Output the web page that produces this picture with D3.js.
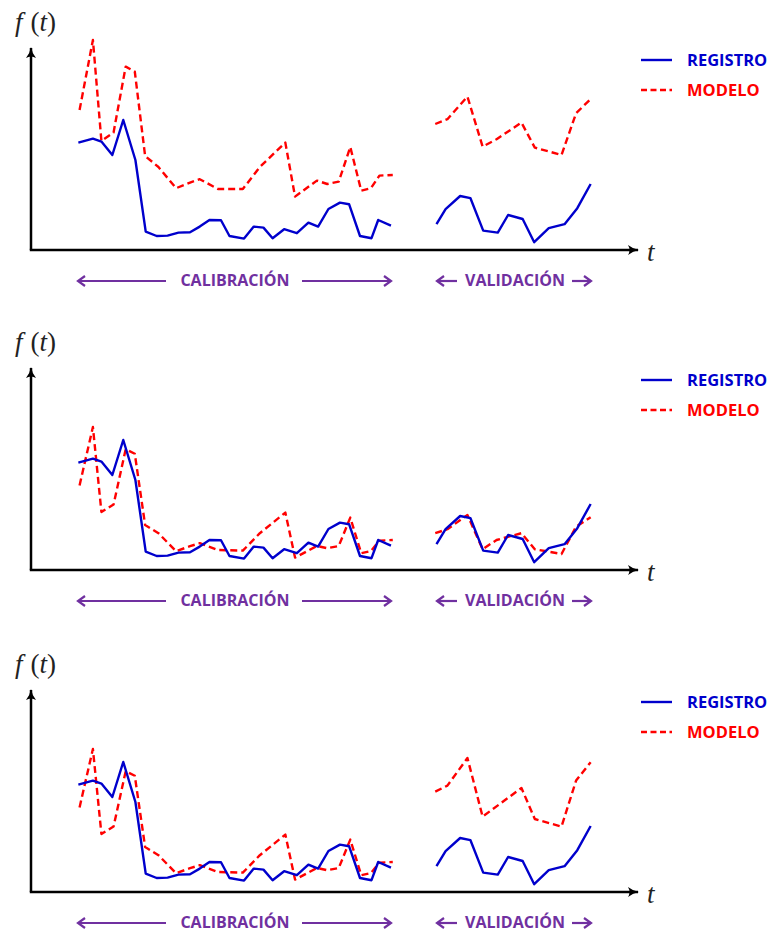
<!DOCTYPE html>
<html>
<head>
<meta charset="utf-8">
<script src="https://cdn.jsdelivr.net/npm/d3@7"></script>
<style>
  body { margin: 0; background: #fff; }
</style>
</head>
<body>
<div id="chart"></div>
<script>
// registro (same in every panel)
const regCalT = [7.8, 10.2, 11.6, 13.4, 15.2, 17.2, 18.9, 20.7, 22.5, 24.3, 26.2, 27.8, 29.4, 31.3, 32.7, 35.1, 36.7, 38.3, 39.8, 41.7, 43.8, 45.7, 47.3, 49.0, 50.9, 52.4, 54.2, 56.1, 57.2, 59.3];
const regCalV = [53.7, 55.7, 54.2, 47.5, 65, 45, 9.2, 7, 7.2, 8.7, 8.9, 11.7, 15, 14.9, 7, 5.7, 11.7, 11.2, 5.9, 10.4, 8.4, 13.7, 11.7, 20.5, 23.7, 22.9, 7, 5.9, 15, 12.2];
const regValT = [66.8, 68.3, 70.7, 72.4, 74.5, 76.9, 78.6, 81.0, 82.9, 85.3, 87.9, 90.0, 92.2];
const regValV = [12.9, 20.4, 27, 25.9, 9.7, 8.7, 17.5, 15.5, 3.9, 10.9, 12.9, 20.9, 33];

// modelo, calibration period
const modCalT = [8.0, 10.2, 11.6, 13.6, 15.6, 17.1, 18.8, 21.0, 23.9, 26.2, 27.8, 30.8, 34.9, 37.7, 41.9, 43.5, 47.1, 48.8, 50.7, 52.6, 54.4, 56.0, 57.4, 59.6];
const modCalV1 = [70, 105, 54.5, 58.7, 91.7, 89.2, 47, 41.5, 30.9, 33.7, 35.4, 30.5, 30.5, 41.5, 53.7, 26.7, 34.7, 33, 34.2, 51.5, 29.7, 30.9, 37.2, 37.5];
const modCalV2 = [42.3, 71.5, 29, 32.7, 60.4, 58.1, 22.5, 18.4, 9.4, 11.9, 13.4, 10, 9.7, 18.4, 28.7, 6.2, 12, 10.9, 12, 26.2, 8.4, 9.5, 14.7, 15];

// modelo, validation period
const modValT = [66.6, 68.6, 71.9, 74.4, 76.7, 80.8, 83.0, 87.4, 89.8, 92.2];
const modValV1 = [63, 65.4, 76.7, 51.7, 55.4, 63.7, 51.2, 47.5, 68.4, 75.5];
const modValV2 = [18.4, 20.4, 27.5, 10.4, 15, 18.4, 10.4, 8, 21.7, 26.4];
const modValT3 = [66.6, 68.6, 71.9, 74.4, 80.8, 83.0, 87.4, 89.8, 92.2];
const modValV3 = [50.2, 53.2, 67, 37.7, 52, 36.5, 32.7, 55.7, 64.9];

const legendLabels = ["REGISTRO", "MODELO"];
const periodLabels = ["CALIBRACIÓN", "VALIDACIÓN"];

const pair = (ts, vs) => ts.map((t, i) => ({ t, v: vs[i] }));

const panels = [
  { dy: 0,   modCal: modCalV1, modValT: modValT,  modVal: modValV1 },
  { dy: 320, modCal: modCalV2, modValT: modValT,  modVal: modValV2 },
  { dy: 642, modCal: modCalV2, modValT: modValT3, modVal: modValV3 }
];

const width = 769;
const height = 932;

const BLUE = "#0000cc";
const RED = "#ff0000";
const PURPLE = "#7030a0";
const SANS = "'Open Sans', Lato, sans-serif";
const SERIF = "'Liberation Serif', 'DejaVu Serif', serif";

const x = d3.scaleLinear().domain([0, 100]).range([31, 638]);
const y = d3.scaleLinear().domain([0, 100]).range([250, 50]);

const svg = d3.select("#chart")
  .append("svg")
  .attr("width", width)
  .attr("height", height)
  .attr("viewBox", `0 0 ${width} ${height}`);

const defs = svg.append("defs");

// black axis arrowhead
defs.append("marker")
  .attr("id", "axisHead")
  .attr("markerUnits", "userSpaceOnUse")
  .attr("viewBox", "-2 -6 14 12")
  .attr("refX", 9).attr("refY", 0)
  .attr("markerWidth", 14).attr("markerHeight", 12)
  .attr("orient", "auto")
  .append("path")
  .attr("d", "M-1,-5 Q4,-1 10,0 Q4,1 -1,5 Q2,0 -1,-5 Z")
  .attr("fill", "black");

// purple arrowheads
defs.append("marker")
  .attr("id", "purpleHead")
  .attr("markerUnits", "userSpaceOnUse")
  .attr("viewBox", "-10 -7 14 14")
  .attr("refX", 0).attr("refY", 0)
  .attr("markerWidth", 14).attr("markerHeight", 14)
  .attr("orient", "auto-start-reverse")
  .append("path")
  .attr("d", "M-7,-5 L0,0 L-7,5")
  .attr("fill", "none")
  .attr("stroke", PURPLE)
  .attr("stroke-width", 2.2);

const line = d3.line().x(d => x(d.t)).y(d => y(d.v));

panels.forEach(p => {
  const g = svg.append("g").attr("transform", `translate(0,${p.dy})`);

  // axes
  g.append("line")
    .attr("x1", x(0)).attr("y1", y(0))
    .attr("x2", x(0)).attr("y2", y(101))
    .attr("stroke", "black").attr("stroke-width", 2.5)
    .attr("marker-end", "url(#axisHead)");
  g.append("line")
    .attr("x1", x(0) - 1.2).attr("y1", y(0))
    .attr("x2", x(100)).attr("y2", y(0))
    .attr("stroke", "black").attr("stroke-width", 2.5)
    .attr("marker-end", "url(#axisHead)");

  // f(t) label
  const fl = g.append("text")
    .attr("x", 15).attr("y", 31)
    .style("font-family", SERIF)
    .style("font-size", "27px")
    .attr("fill", "#222");
  fl.append("tspan").attr("font-style", "italic").text("f");
  fl.append("tspan").attr("dx", 8).text("(");
  fl.append("tspan").attr("font-style", "italic").text("t");
  fl.append("tspan").text(")");

  g.append("text")
    .attr("x", 647).attr("y", 261)
    .style("font-family", SERIF)
    .style("font-size", "27px")
    .attr("font-style", "italic")
    .attr("fill", "#222")
    .text("t");

  // series
  const series = [
    { data: pair(modCalT, p.modCal), color: RED, dash: "7,4" },
    { data: pair(p.modValT, p.modVal), color: RED, dash: "7,4" },
    { data: pair(regCalT, regCalV), color: BLUE, dash: null },
    { data: pair(regValT, regValV), color: BLUE, dash: null }
  ];
  series.forEach(s => {
    g.append("path")
      .datum(s.data)
      .attr("d", line)
      .attr("fill", "none")
      .attr("stroke", s.color)
      .attr("stroke-width", 2.4)
      .attr("stroke-linejoin", "round")
      .attr("stroke-dasharray", s.dash);
  });

  // legend
  const legend = g.append("g").attr("transform", "translate(641,60)");
  legendLabels.forEach((lab, i) => {
    const c = i === 0 ? BLUE : RED;
    legend.append("line")
      .attr("x1", 0).attr("x2", 31)
      .attr("y1", i * 30).attr("y2", i * 30)
      .attr("stroke", c).attr("stroke-width", 2.4)
      .attr("stroke-dasharray", i === 0 ? null : "6,3.5");
    legend.append("text")
      .attr("x", 46).attr("y", i * 30 + 6)
      .style("font-family", SANS)
      .style("font-weight", 700)
      .style("font-size", "16.5px")
      .attr("fill", c)
      .text(lab);
  });

  // period annotations
  const ann = g.append("g");
  const arrow = (x1, x2, yy) => ann.append("line")
    .attr("x1", x1).attr("x2", x2).attr("y1", yy).attr("y2", yy)
    .attr("stroke", PURPLE).attr("stroke-width", 2.2)
    .attr("marker-end", "url(#purpleHead)");
  arrow(166, 78, 281);
  arrow(302, 391, 281);
  arrow(457, 437, 281);
  arrow(572, 591, 281);

  ann.append("text")
    .attr("x", 235).attr("y", 285.5)
    .attr("text-anchor", "middle")
    .style("font-family", SANS)
    .style("font-weight", 700)
    .style("font-size", "16px")
    .attr("fill", PURPLE)
    .text(periodLabels[0]);
  ann.append("text")
    .attr("x", 515).attr("y", 285.5)
    .attr("text-anchor", "middle")
    .style("font-family", SANS)
    .style("font-weight", 700)
    .style("font-size", "16px")
    .attr("fill", PURPLE)
    .text(periodLabels[1]);
});
</script>
</body>
</html>
